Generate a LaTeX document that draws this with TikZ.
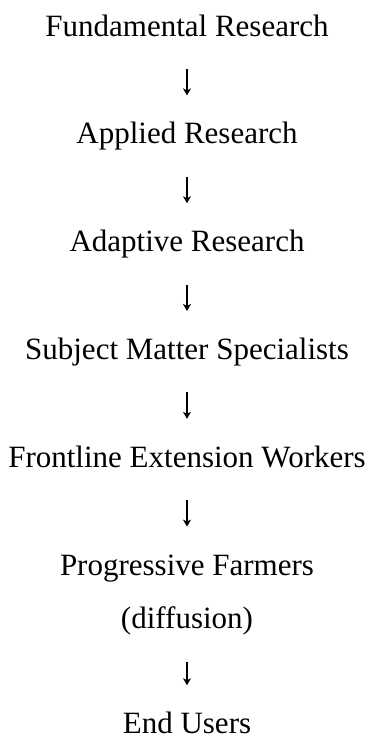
\documentclass[tikz,border=0pt]{standalone}
\usepackage{fontspec}
\setmainfont{Liberation Serif}
\usetikzlibrary{positioning,arrows.meta}

\begin{document}
\begin{tikzpicture}[
    node distance=39pt,
    every node/.style={font=\fontsize{15.5}{18}\selectfont, inner sep=0pt, text height=11pt, text depth=3.5pt},
    flow/.style={draw, line width=0.65pt, -{Stealth[length=3.5pt, width=4pt, inset=1pt]}, shorten <=12.75pt, shorten >=13pt}
]
    \useasboundingbox (0,0) rectangle (187pt,-368pt);
    \node[anchor=base] (fund) at (93.5pt,-18pt) {Fundamental Research};
    \node[below=of fund] (appl) {Applied Research};
    \node[below=of appl] (adap) {Adaptive Research};
    \node[below=of adap] (subj) {Subject Matter Specialists};
    \node[below=of subj] (front) {Frontline Extension Workers};
    \node[below=of front] (prog) {Progressive Farmers};
    \node[below=12pt of prog] (diff) {(diffusion)};
    \node[below=37.5pt of diff, text depth=0pt] (users) {End Users};

    \draw[flow] (fund) -- (appl);
    \draw[flow] (appl) -- (adap);
    \draw[flow] (adap) -- (subj);
    \draw[flow] (subj) -- (front);
    \draw[flow] (front) -- (prog);
    \draw[flow] (diff) -- (users);
\end{tikzpicture}
\end{document}
